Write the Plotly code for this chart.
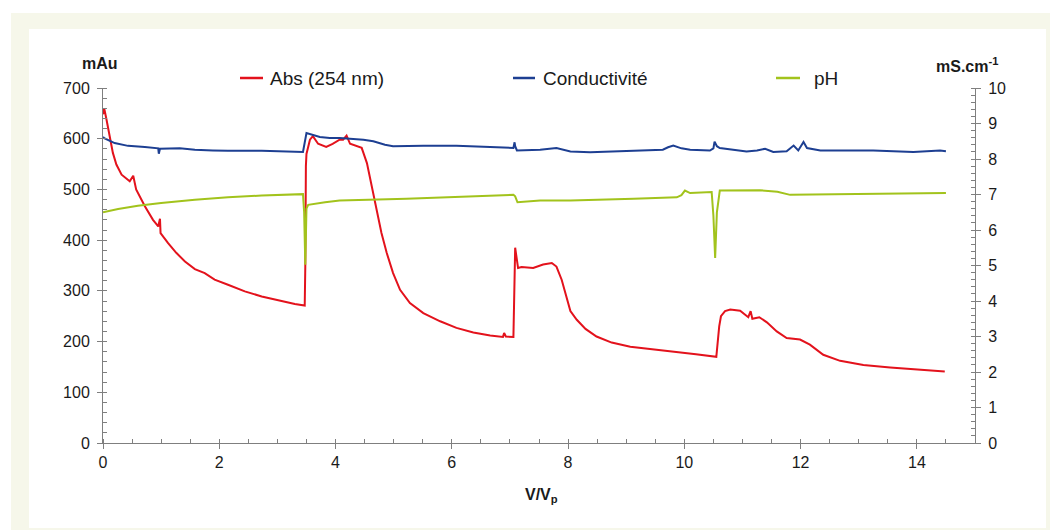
import plotly.graph_objects as go

# ---------------- data ----------------
abs_x = [0.00, 0.02, 0.06, 0.12, 0.17, 0.23, 0.32, 0.46, 0.52, 0.57, 0.72, 0.86, 0.95, 0.98, 0.99,
         1.12, 1.26, 1.41, 1.58, 1.75, 1.92, 2.15, 2.44, 2.73, 3.01, 3.30, 3.47, 3.48, 3.49, 3.50,
         3.56, 3.61, 3.70, 3.84, 3.95, 4.07, 4.13, 4.19, 4.25, 4.45, 4.54, 4.62, 4.71, 4.79, 4.88,
         4.99, 5.11, 5.28, 5.51, 5.80, 6.08, 6.37, 6.66, 6.88, 6.90, 6.93, 7.06, 7.07, 7.09, 7.14,
         7.20, 7.40, 7.57, 7.72, 7.80, 7.89, 7.98, 8.04, 8.15, 8.30, 8.49, 8.75, 9.07, 9.40, 9.81,
         10.20, 10.55, 10.60, 10.63, 10.70, 10.79, 10.96, 11.10, 11.14, 11.17, 11.29, 11.42, 11.59,
         11.76, 11.99, 12.16, 12.39, 12.68, 13.08, 13.54, 14.10, 14.48]
abs_y = [648, 660, 638, 598, 572, 549, 529, 516, 527, 500, 467, 440, 427, 442, 414,
         394, 375, 358, 343, 335, 322, 312, 299, 289, 281, 274, 271, 348, 546, 570,
         598, 605, 590, 584, 590, 598, 598, 606, 590, 582, 552, 506, 460, 414, 375,
         335, 302, 276, 256, 240, 227, 218, 212, 209, 217, 210, 209, 300, 385, 345,
         347, 345, 352, 355, 348, 322, 283, 260, 243, 225, 210, 198, 190, 186, 181,
         175, 170, 230, 250, 260, 263, 261, 248, 260, 245, 248, 238, 220,
         207, 204, 194, 174, 162, 154, 149, 145, 141]

cond_x = [0.00, 0.02, 0.20, 0.43, 0.72, 0.95, 0.96, 0.98, 1.32, 1.58, 1.89, 2.15, 2.73, 3.20, 3.44,
          3.50, 3.73, 3.90, 4.07, 4.48, 4.65, 4.85, 4.99, 5.51, 6.08, 6.66, 7.06, 7.08, 7.09, 7.12,
          7.17, 7.52, 7.80, 7.86, 8.04, 8.38, 9.01, 9.63, 9.72, 9.81, 9.95, 10.10, 10.44, 10.50,
          10.52, 10.56, 10.61, 11.07, 11.25, 11.39, 11.53, 11.76, 11.88, 11.96, 12.05, 12.11, 12.34,
          13.25, 13.94, 14.40, 14.50]
cond_y = [8.62, 8.59, 8.45, 8.37, 8.34, 8.30, 8.15, 8.29, 8.30, 8.26, 8.24, 8.23, 8.23, 8.21, 8.20,
          8.73, 8.62, 8.59, 8.59, 8.54, 8.50, 8.40, 8.36, 8.37, 8.37, 8.34, 8.31, 8.47, 8.36, 8.24,
          8.24, 8.26, 8.31, 8.28, 8.21, 8.19, 8.23, 8.26, 8.33, 8.38, 8.30, 8.26, 8.24, 8.30,
          8.49, 8.36, 8.31, 8.21, 8.24, 8.29, 8.20, 8.22, 8.38, 8.24, 8.48, 8.31, 8.24,
          8.24, 8.20, 8.24, 8.22]

ph_x = [0.00, 0.26, 0.60, 1.00, 1.58, 2.15, 2.73, 3.44, 3.46, 3.48, 3.50, 3.53, 3.82, 4.07, 5.22,
        6.37, 7.06, 7.09, 7.13, 7.52, 8.04, 9.13, 9.87, 9.95, 10.01, 10.10, 10.47, 10.50, 10.53,
        10.56, 10.61, 11.30, 11.60, 11.82, 12.50, 14.40, 14.50]
ph_y = [6.50, 6.59, 6.68, 6.76, 6.85, 6.92, 6.97, 7.01, 6.50, 5.02, 6.60, 6.71, 6.78, 6.83, 6.88,
        6.95, 6.99, 6.95, 6.78, 6.83, 6.83, 6.88, 6.92, 6.98, 7.11, 7.04, 7.07, 6.40, 5.21,
        6.50, 7.11, 7.12, 7.08, 6.99, 7.00, 7.04, 7.04]

series_names = ["Abs (254 nm)", "Conductivité", "pH"]
series_colors = ["#e3121c", "#1d3f92", "#a2c31c"]

# ---------------- layout constants ----------------
W, H = 1050, 530
L, R, T, B = 103, 75, 88, 87
PW, PH = W - L - R, H - T - B
FONT = "Liberation Sans, Arial, Helvetica, sans-serif"
TXT = "#1a1a1a"
AX = "#7f7f7f"


def px(x):
    return (x - L) / PW


def py(y):
    return (H - B - y) / PH


fig = go.Figure()
fig.add_trace(go.Scatter(x=abs_x, y=abs_y, mode="lines", name=series_names[0],
                         line=dict(color=series_colors[0], width=2), yaxis="y"))
fig.add_trace(go.Scatter(x=cond_x, y=cond_y, mode="lines", name=series_names[1],
                         line=dict(color=series_colors[1], width=2), yaxis="y2"))
fig.add_trace(go.Scatter(x=ph_x, y=ph_y, mode="lines", name=series_names[2],
                         line=dict(color=series_colors[2], width=2), yaxis="y2"))

shapes = [
    dict(type="rect", xref="paper", yref="paper", x0=px(11), x1=px(1060), y0=py(540), y1=py(13),
         fillcolor="#f6f7ea", line=dict(width=0), layer="below"),
    dict(type="rect", xref="paper", yref="paper", x0=px(29), x1=px(1046), y0=py(528), y1=py(29),
         fillcolor="#ffffff", line=dict(width=0), layer="below"),
]
annotations = []
leg = [(240, 263, 268), (513, 535, 541), (776, 800, 812)]
for (a, b, t), name, col in zip(leg, series_names, series_colors):
    shapes.append(dict(type="line", xref="paper", yref="paper", x0=px(a), x1=px(b), y0=py(78), y1=py(78),
                       line=dict(color=col, width=2.5)))
    annotations.append(dict(xref="paper", yref="paper", x=px(t), y=py(78), text=name, showarrow=False,
                            xanchor="left", yanchor="middle", font=dict(family=FONT, size=19, color=TXT)))

annotations += [
    dict(xref="paper", yref="paper", x=px(100), y=py(63), text="<b>mAu</b>", showarrow=False,
         xanchor="center", yanchor="middle", font=dict(family=FONT, size=16, color=TXT)),
    dict(xref="paper", yref="paper", x=px(967), y=py(65), text="<b>mS.cm<sup>-1</sup></b>", showarrow=False,
         xanchor="center", yanchor="middle", font=dict(family=FONT, size=16, color=TXT)),
    dict(xref="paper", yref="paper", x=px(541), y=py(495), text="<b>V/V<sub>p</sub></b>", showarrow=False,
         xanchor="center", yanchor="middle", font=dict(family=FONT, size=16, color=TXT)),
]

axis_common = dict(showgrid=False, zeroline=False, showline=True, linecolor=AX, linewidth=1,
                   ticks="outside", ticklen=5, tickcolor=AX, tickwidth=1,
                   tickfont=dict(family=FONT, size=16, color=TXT))

fig.update_layout(
    width=W, height=H, margin=dict(l=L, r=R, t=T, b=B, autoexpand=False),
    paper_bgcolor="#ffffff", plot_bgcolor="rgba(0,0,0,0)", showlegend=False,
    xaxis=dict(range=[0, 15], tick0=0, dtick=2, **axis_common,
               minor=dict(dtick=0.5, ticks="inside", ticklen=4, tickcolor=AX)),
    yaxis=dict(range=[0, 700], tick0=0, dtick=100, ticklabelstandoff=4, **axis_common,
               minor=dict(dtick=20, ticks="inside", ticklen=4, tickcolor=AX)),
    yaxis2=dict(range=[0, 10], tick0=0, dtick=1, overlaying="y", side="right", anchor="x",
                ticklabelstandoff=4, **axis_common,
                minor=dict(dtick=0.2, ticks="inside", ticklen=4, tickcolor=AX)),
    shapes=shapes, annotations=annotations,
)

fig.write_html("out.html")
